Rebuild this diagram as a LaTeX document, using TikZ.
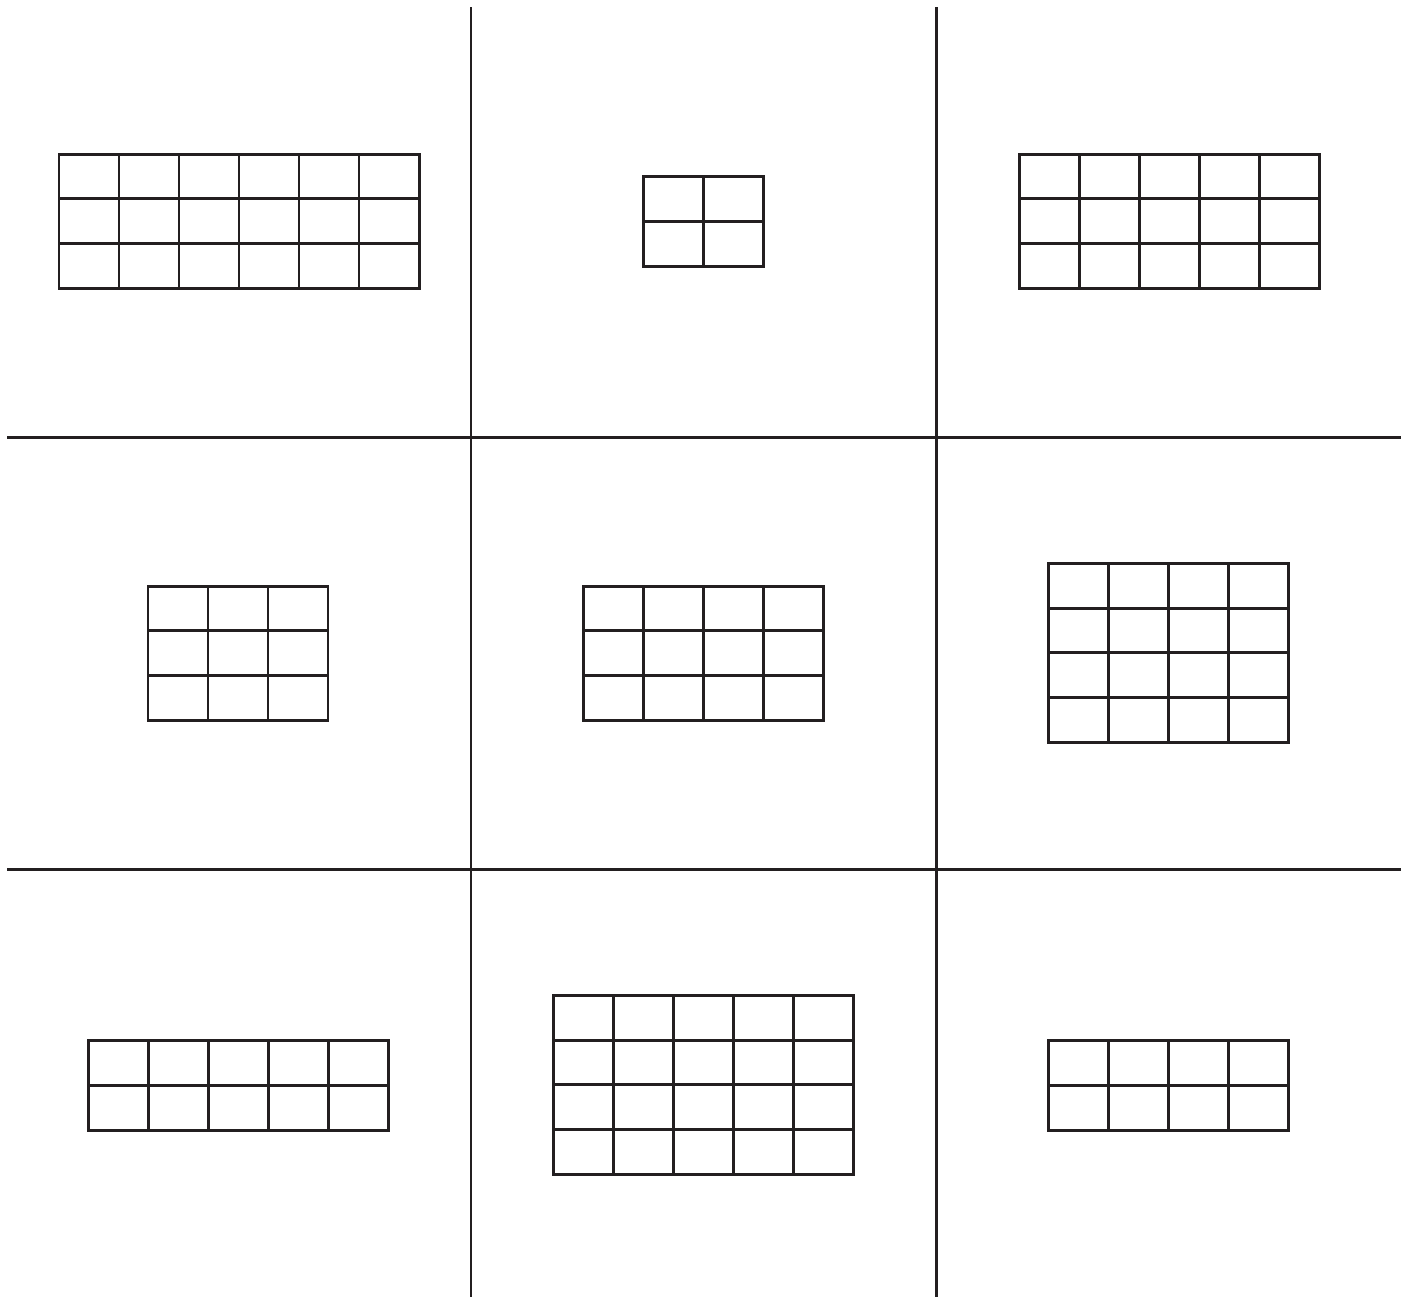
\documentclass[tikz,border=0pt]{standalone}
\usepackage{xcolor}
\usepackage{tikz}

\begin{document}
\begin{tikzpicture}
% --- CORES E ESTILOS ---
\definecolor{traco}{HTML}{231F20}
\tikzset{
  divisao/.style={draw=traco, line width=0.85pt},
  grade/.style={draw=traco, line width=0.85pt, xscale=0.6, yscale=0.446}
}
\useasboundingbox (0,0) rectangle (14.08,-12.98);

% LAYER 1: Divisorias dos paineis
\draw[divisao] (4.71,-0.07) -- (4.71,-12.97);
\draw[divisao] (9.36,-0.07) -- (9.36,-12.97);
\draw[divisao] (0.07,-4.37) -- (14.01,-4.37);
\draw[divisao] (0.07,-8.69) -- (14.01,-8.69);

% LAYER 2: Grades da primeira linha (contorno + linhas internas)
\draw[shift={(0.59,-2.88)}, grade] (0,0) rectangle (6,3)
  \foreach \i in {1,...,5} {(\i,0) -- (\i,3)} \foreach \j in {1,2} {(0,\j) -- (6,\j)};
\draw[shift={(6.435,-2.66)}, grade] (0,0) rectangle (2,2)
  (1,0) -- (1,2) (0,1) -- (2,1);
\draw[shift={(10.19,-2.88)}, grade] (0,0) rectangle (5,3)
  \foreach \i in {1,...,4} {(\i,0) -- (\i,3)} \foreach \j in {1,2} {(0,\j) -- (5,\j)};

% LAYER 3: Grades da segunda linha
\draw[shift={(1.48,-7.20)}, grade] (0,0) rectangle (3,3)
  \foreach \i in {1,2} {(\i,0) -- (\i,3)} \foreach \j in {1,2} {(0,\j) -- (3,\j)};
\draw[shift={(5.835,-7.20)}, grade] (0,0) rectangle (4,3)
  \foreach \i in {1,2,3} {(\i,0) -- (\i,3)} \foreach \j in {1,2} {(0,\j) -- (4,\j)};
\draw[shift={(10.485,-7.42)}, grade] (0,0) rectangle (4,4)
  \foreach \i in {1,2,3} {(\i,0) -- (\i,4)} \foreach \j in {1,2,3} {(0,\j) -- (4,\j)};

% LAYER 4: Grades da terceira linha
\draw[shift={(0.885,-11.30)}, grade] (0,0) rectangle (5,2)
  \foreach \i in {1,...,4} {(\i,0) -- (\i,2)} (0,1) -- (5,1);
\draw[shift={(5.535,-11.74)}, grade] (0,0) rectangle (5,4)
  \foreach \i in {1,...,4} {(\i,0) -- (\i,4)} \foreach \j in {1,2,3} {(0,\j) -- (5,\j)};
\draw[shift={(10.485,-11.30)}, grade] (0,0) rectangle (4,2)
  \foreach \i in {1,2,3} {(\i,0) -- (\i,2)} (0,1) -- (4,1);
\end{tikzpicture}
\end{document}
